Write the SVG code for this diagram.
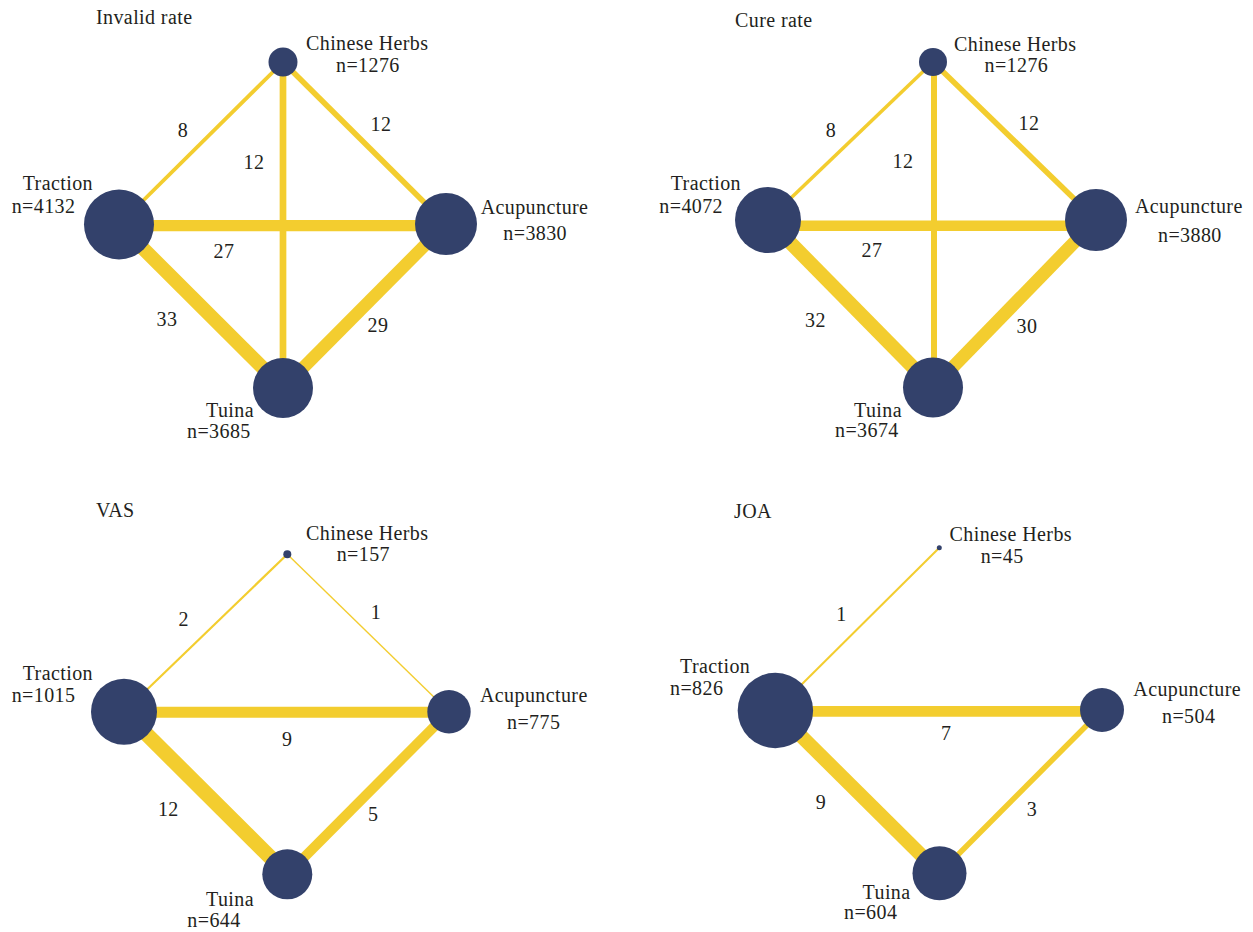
<svg xmlns="http://www.w3.org/2000/svg" width="1253" height="932" viewBox="0 0 1253 932">
  <style>
    text { font-family: "Liberation Serif", "Times New Roman", serif; font-size: 20px; fill: #231f20; letter-spacing: 0.4px; }
    .num { text-anchor: middle; }
    .edge { stroke: #f3cd2f; stroke-linecap: butt; fill: none; }
    .node { fill: #33416b; }
  </style>
  <rect width="1253" height="932" fill="#ffffff"/>

  <!-- Network: Invalid rate -->
  <g id="invalid-rate">
    <text x="96" y="23.5">Invalid rate</text>
    <g id="invalid-connectors">
      <line class="edge" x1="119" y1="224.5" x2="283" y2="62" stroke-width="3.8"/>
      <line class="edge" x1="283" y1="62" x2="446" y2="224" stroke-width="5.5"/>
      <line class="edge" x1="283" y1="62" x2="283" y2="388" stroke-width="6.7"/>
      <line class="edge" x1="119" y1="225.7" x2="446" y2="225.7" stroke-width="11.3"/>
      <line class="edge" x1="119" y1="224.5" x2="283" y2="388" stroke-width="14"/>
      <line class="edge" x1="446" y1="224" x2="283" y2="388" stroke-width="12.5"/>
      <text class="num" x="183" y="137">8</text>
      <text class="num" x="254" y="169">12</text>
      <text class="num" x="381" y="131">12</text>
      <text class="num" x="224" y="258">27</text>
      <text class="num" x="167" y="326">33</text>
      <text class="num" x="378" y="332">29</text>
    </g>
    <g id="invalid-herbs">
      <circle class="node" cx="283" cy="62" r="14.5"/>
      <text x="306" y="50">Chinese Herbs</text>
      <text x="336" y="71.7">n=1276</text>
    </g>
    <g id="invalid-traction">
      <circle class="node" cx="119" cy="224.5" r="35"/>
      <text x="22.7" y="190">Traction</text>
      <text x="11.7" y="212.7">n=4132</text>
    </g>
    <g id="invalid-acupuncture">
      <circle class="node" cx="446" cy="224" r="31"/>
      <text x="480.7" y="214.3">Acupuncture</text>
      <text x="503.3" y="240">n=3830</text>
    </g>
    <g id="invalid-tuina">
      <circle class="node" cx="283" cy="388" r="30"/>
      <text x="206" y="417">Tuina</text>
      <text x="187" y="438">n=3685</text>
    </g>
  </g>

  <!-- Network: Cure rate -->
  <g id="cure-rate">
    <text x="735" y="27">Cure rate</text>
    <g id="cure-connectors">
      <line class="edge" x1="768" y1="220" x2="933" y2="62" stroke-width="3.5"/>
      <line class="edge" x1="933" y1="62" x2="1096" y2="220" stroke-width="5.5"/>
      <line class="edge" x1="934" y1="62" x2="934" y2="387.5" stroke-width="6"/>
      <line class="edge" x1="768" y1="225.7" x2="1096" y2="225.7" stroke-width="10.5"/>
      <line class="edge" x1="768" y1="220" x2="933" y2="387.5" stroke-width="14"/>
      <line class="edge" x1="1096" y1="220" x2="933" y2="387.5" stroke-width="13"/>
      <text class="num" x="831" y="137">8</text>
      <text class="num" x="903" y="168">12</text>
      <text class="num" x="1029" y="130">12</text>
      <text class="num" x="872" y="257">27</text>
      <text class="num" x="815.5" y="327">32</text>
      <text class="num" x="1027" y="333">30</text>
    </g>
    <g id="cure-herbs">
      <circle class="node" cx="933" cy="62" r="14"/>
      <text x="954" y="51">Chinese Herbs</text>
      <text x="984.5" y="72">n=1276</text>
    </g>
    <g id="cure-traction">
      <circle class="node" cx="768" cy="220" r="33"/>
      <text x="670.7" y="190">Traction</text>
      <text x="659.3" y="213">n=4072</text>
    </g>
    <g id="cure-acupuncture">
      <circle class="node" cx="1096" cy="220" r="31"/>
      <text x="1135" y="213.3">Acupuncture</text>
      <text x="1158" y="241.7">n=3880</text>
    </g>
    <g id="cure-tuina">
      <circle class="node" cx="933" cy="387.5" r="30"/>
      <text x="854" y="417">Tuina</text>
      <text x="835" y="437">n=3674</text>
    </g>
  </g>

  <!-- Network: VAS -->
  <g id="vas">
    <text x="96" y="517">VAS</text>
    <g id="vas-connectors">
      <line class="edge" x1="124" y1="711.7" x2="287.3" y2="554.3" stroke-width="2.2"/>
      <line class="edge" x1="287.3" y1="554.3" x2="449" y2="711.7" stroke-width="1.4"/>
      <line class="edge" x1="124" y1="712.3" x2="449" y2="712.3" stroke-width="11"/>
      <line class="edge" x1="124" y1="711.7" x2="287.3" y2="874.3" stroke-width="15"/>
      <line class="edge" x1="449" y1="711.7" x2="287.3" y2="874.3" stroke-width="10"/>
      <text class="num" x="183.7" y="626">2</text>
      <text class="num" x="376" y="619">1</text>
      <text class="num" x="287.3" y="746">9</text>
      <text class="num" x="168.3" y="816">12</text>
      <text class="num" x="373.3" y="821">5</text>
    </g>
    <g id="vas-herbs">
      <circle class="node" cx="287.3" cy="554.3" r="4"/>
      <text x="306" y="540">Chinese Herbs</text>
      <text x="336.7" y="561">n=157</text>
    </g>
    <g id="vas-traction">
      <circle class="node" cx="124" cy="711.7" r="33"/>
      <text x="22.7" y="680">Traction</text>
      <text x="11.7" y="701.7">n=1015</text>
    </g>
    <g id="vas-acupuncture">
      <circle class="node" cx="449" cy="711.7" r="21.7"/>
      <text x="480" y="701.7">Acupuncture</text>
      <text x="507" y="729">n=775</text>
    </g>
    <g id="vas-tuina">
      <circle class="node" cx="287.3" cy="874.3" r="25"/>
      <text x="206" y="906">Tuina</text>
      <text x="187.3" y="926.7">n=644</text>
    </g>
  </g>

  <!-- Network: JOA -->
  <g id="joa">
    <text x="734" y="518">JOA</text>
    <g id="joa-connectors">
      <line class="edge" x1="775.4" y1="710.5" x2="939.3" y2="547.7" stroke-width="2"/>
      <line class="edge" x1="775.4" y1="711.3" x2="1102" y2="711.3" stroke-width="10.7"/>
      <line class="edge" x1="775.4" y1="710.5" x2="939.5" y2="873.3" stroke-width="14"/>
      <line class="edge" x1="1102" y1="710" x2="939.5" y2="873.3" stroke-width="5.5"/>
      <text class="num" x="841.5" y="621">1</text>
      <text class="num" x="946.3" y="740">7</text>
      <text class="num" x="821" y="809">9</text>
      <text class="num" x="1032" y="816">3</text>
    </g>
    <g id="joa-herbs">
      <circle class="node" cx="939.3" cy="547.7" r="2.5"/>
      <text x="949.6" y="540.7">Chinese Herbs</text>
      <text x="980.7" y="562.7">n=45</text>
    </g>
    <g id="joa-traction">
      <circle class="node" cx="775.4" cy="710.5" r="37.7"/>
      <text x="680" y="672.7">Traction</text>
      <text x="670" y="695">n=826</text>
    </g>
    <g id="joa-acupuncture">
      <circle class="node" cx="1102" cy="710" r="22"/>
      <text x="1133.3" y="696">Acupuncture</text>
      <text x="1162" y="722.7">n=504</text>
    </g>
    <g id="joa-tuina">
      <circle class="node" cx="939.5" cy="873.3" r="27"/>
      <text x="862.6" y="899">Tuina</text>
      <text x="844" y="919.3">n=604</text>
    </g>
  </g>
</svg>
